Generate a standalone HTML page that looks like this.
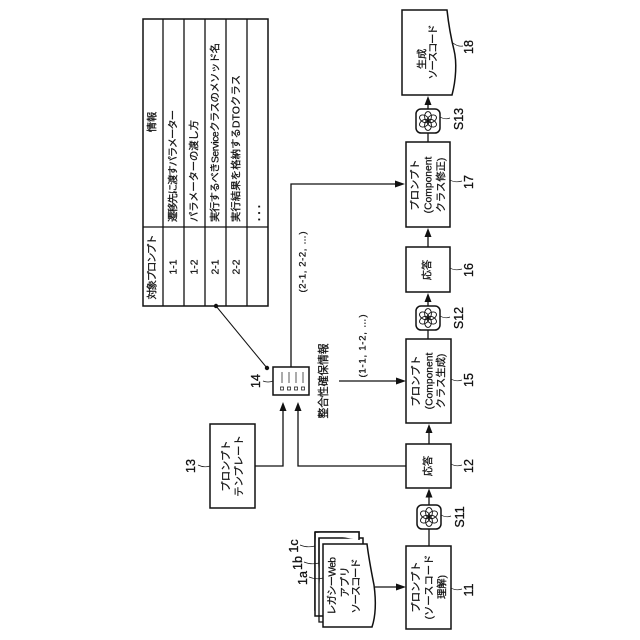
<!DOCTYPE html>
<html><head><meta charset="utf-8"><style>
html,body{margin:0;padding:0;background:#fff;width:640px;height:640px;overflow:hidden}
svg{display:block}
text{font-family:"Liberation Sans","Noto Sans CJK JP",sans-serif;fill:#111;stroke:#111;stroke-width:.25;font-size:10.3px;text-anchor:middle;dominant-baseline:central}
.b{fill:#fff;stroke:#111;stroke-width:1.5}
.l{fill:none;stroke:#111;stroke-width:1.3}
.t{fill:none;stroke:#111;stroke-width:.7}
.n{font-size:12.5px;stroke-width:.3}
.s{text-anchor:start}
</style></head><body>
<svg width="640" height="640" viewBox="0 0 640 640" xmlns="http://www.w3.org/2000/svg">
<defs>
<g id="ai">
<rect x="-12" y="-12" width="24" height="24" rx="5" fill="#fff" stroke="#111" stroke-width="1.5"/>
<g fill="none" stroke="#111" stroke-width=".9">
<ellipse rx="3.4" ry="5" cy="-4.4"/>
<ellipse rx="3.4" ry="5" cy="-4.4" transform="rotate(60)"/>
<ellipse rx="3.4" ry="5" cy="-4.4" transform="rotate(120)"/>
<ellipse rx="3.4" ry="5" cy="-4.4" transform="rotate(180)"/>
<ellipse rx="3.4" ry="5" cy="-4.4" transform="rotate(240)"/>
<ellipse rx="3.4" ry="5" cy="-4.4" transform="rotate(300)"/>
</g>
</g>
</defs>

<!-- table -->
<rect class="b" x="143" y="19" width="125" height="287"/>
<path class="l" d="M163 19V306M184 19V306M205 19V306M226 19V306M247 19V306M143 227H268"/>
<text transform="translate(153,122) rotate(-90)">情報</text>
<text transform="translate(153,267) rotate(-90)" textLength="65">対象プロンプト</text>
<text transform="translate(174,267) rotate(-90)">1-1</text>
<text transform="translate(195,267) rotate(-90)">1-2</text>
<text transform="translate(216,267) rotate(-90)">2-1</text>
<text transform="translate(237,267) rotate(-90)">2-2</text>
<text class="s" transform="translate(174,222) rotate(-90)" textLength="112">遷移先に渡すパラメーター</text>
<text class="s" transform="translate(195,222) rotate(-90)" textLength="102">パラメーターの渡し方</text>
<text class="s" transform="translate(216,222) rotate(-90)" textLength="179">実行するべきServiceクラスのメソッド名</text>
<text class="s" transform="translate(237,222) rotate(-90)" textLength="147">実行結果を格納するDTOクラス</text>
<text class="s" transform="translate(257,221) rotate(-90)" style="font-weight:bold;font-size:11px" textLength="16">...</text>

<!-- pointer -->
<circle cx="216" cy="306" r="2.2" fill="#111"/>
<circle cx="267" cy="368" r="2.2" fill="#111"/>
<path class="t" style="stroke-width:1" d="M216 306L267 368"/>

<!-- 14 -->
<rect class="b" x="273" y="367" width="36" height="28"/>
<path class="t" d="M282 372V383M289 372V383M296 372V383M303 372V383"/>
<path class="t" d="M280.500 387h3v3h-3zM287.500 387h3v3h-3zM294.500 387h3v3h-3zM301.500 387h3v3h-3z"/>
<text class="n" transform="translate(256,381) rotate(-90)">14</text>
<path class="t" d="M263 381q5 2 10 0"/>

<!-- 13 -->
<rect class="b" x="210" y="424" width="45" height="84"/>
<text transform="translate(227,466) rotate(-90)">プロンプト</text>
<text transform="translate(240,466) rotate(-90)">テンプレート</text>
<text class="n" transform="translate(191,466) rotate(-90)">13</text>
<path class="t" d="M198 465q6 3 12 1"/>
<path class="l" d="M255 466H283V410"/>
<path d="M283 402l-3.500 9h7z" fill="#111"/>
<path class="l" d="M406 466H298V410"/>
<path d="M298 402l-3.500 9h7z" fill="#111"/>

<!-- long line to 17 -->
<path class="l" d="M291 367V184H396"/>
<path d="M405 184l-10 -3.500v7z" fill="#111"/>
<text transform="translate(303,262) rotate(-90)" textLength="61" style="font-size:9.500px">(2-1, 2-2, …)</text>
<text transform="translate(324,381) rotate(-90)" textLength="75" style="font-size:10.800px">整合性確保情報</text>
<text transform="translate(363,346) rotate(-90)" textLength="63" style="font-size:9.500px">(1-1, 1-2, …)</text>
<path class="l" d="M339 381H397"/>
<path d="M406 381l-10 -3.500v7z" fill="#111"/>

<!-- 18 -->
<path class="b" d="M402 10H447C449 28 451 38 454 50C457 62 456 80 452 95H402Z"/>
<text transform="translate(423,59) rotate(-90)">生成</text>
<text transform="translate(434,52) rotate(-90)" textLength="55">ソースコード</text>
<text class="n" transform="translate(469,47) rotate(-90)">18</text>
<path class="t" d="M453 43q5 4 10 3"/>

<!-- vertical flow lines -->
<path class="l" d="M428 142V104M428 247V235M428 339V300M429 444V432M429 546V496"/>
<path d="M428 96l-3.500 9h7zM428 228l-3.500 9h7zM428 293l-3.500 9h7zM429 424l-3.500 9h7zM429 488.500l-3.500 9h7z" fill="#111"/>

<!-- icons -->
<use href="#ai" x="428" y="121"/>
<text class="n" transform="translate(459,119) rotate(-90)">S13</text>
<path class="t" d="M440 117q5 3 10 1"/>
<use href="#ai" x="428" y="318"/>
<text class="n" transform="translate(459,318) rotate(-90)">S12</text>
<path class="t" d="M440 316q5 3 10 1"/>
<use href="#ai" x="429" y="517"/>
<text class="n" transform="translate(460,517) rotate(-90)">S11</text>
<path class="t" d="M441 515q5 3 10 1"/>

<!-- 17 -->
<rect class="b" x="406" y="142" width="44" height="85"/>
<text transform="translate(416,185) rotate(-90)">プロンプト</text>
<text transform="translate(429,185) rotate(-90)">(Component</text>
<text transform="translate(442,185) rotate(-90)">クラス修正)</text>
<text class="n" transform="translate(469,182) rotate(-90)">17</text>
<path class="t" d="M450 180q5 3 12 1"/>

<!-- 16 -->
<rect class="b" x="406" y="247" width="44" height="45"/>
<text transform="translate(428,270) rotate(-90)">応答</text>
<text class="n" transform="translate(469,270) rotate(-90)">16</text>
<path class="t" d="M450 268q5 3 12 1"/>

<!-- 15 -->
<rect class="b" x="406" y="339" width="45" height="84"/>
<text transform="translate(417,381) rotate(-90)">プロンプト</text>
<text transform="translate(430,381) rotate(-90)">(Component</text>
<text transform="translate(442,381) rotate(-90)">クラス生成)</text>
<text class="n" transform="translate(469,380) rotate(-90)">15</text>
<path class="t" d="M451 379q5 3 11 1"/>

<!-- 12 -->
<rect class="b" x="406" y="444" width="45" height="44"/>
<text transform="translate(429,466) rotate(-90)">応答</text>
<text class="n" transform="translate(469,466) rotate(-90)">12</text>
<path class="t" d="M451 464q5 3 11 1"/>

<!-- 11 -->
<rect class="b" x="406" y="546" width="45" height="83"/>
<text transform="translate(417,587) rotate(-90)">プロンプト</text>
<text transform="translate(430,587) rotate(-90)">(ソースコード</text>
<text transform="translate(443,587) rotate(-90)">理解)</text>
<text class="n" transform="translate(469,590) rotate(-90)">11</text>
<path class="t" d="M451 588q5 3 11 1"/>

<!-- docs -->
<path class="b" d="M315 532H359V610H315Z"/>
<path class="b" d="M319 538H363V615H319Z"/>
<path class="b" d="M315 532V616H323M315 532H359V540"/>
<path class="b" d="M323 544H367C369 560 371 570 374 585C376 600 376 615 372 627H323Z"/>
<path class="l" d="M319 538V622H323"/>
<text transform="translate(333,586) rotate(-90)" textLength="58">レガシーWeb</text>
<text transform="translate(346,582) rotate(-90)">アプリ</text>
<text transform="translate(357,586) rotate(-90)" textLength="55">ソースコード</text>
<text class="n" transform="translate(303,578) rotate(-90)">1a</text>
<text class="n" transform="translate(298,563) rotate(-90)">1b</text>
<text class="n" transform="translate(294,546) rotate(-90)">1c</text>
<path class="t" d="M309 577q7 3 14 1M304 562q7 3 15 1M300 545q7 3 15 1"/>
<path class="l" d="M375 587H397"/>
<path d="M406 587l-10 -3.500v7z" fill="#111"/>
</svg>
</body></html>
